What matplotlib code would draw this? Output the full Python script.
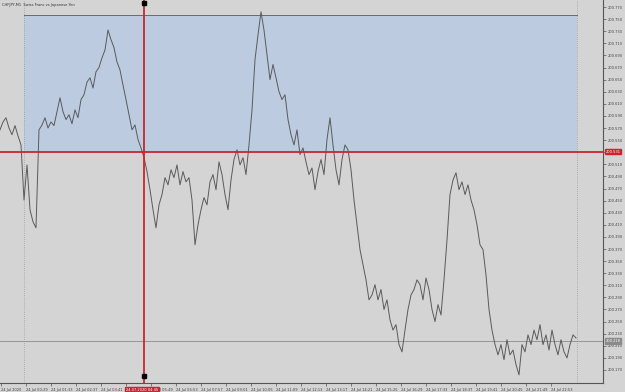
import numpy as np
import matplotlib
matplotlib.use("Agg")
from matplotlib import pyplot as plt

# CHFJPY M1 close prices, one sample every few bars.
prices = [
    200.567, 200.580, 200.587, 200.570, 200.559, 200.574, 200.557, 200.542, 200.451, 200.509,
    200.435, 200.415, 200.405, 200.567, 200.575, 200.587, 200.570, 200.580, 200.574, 200.597,
    200.620, 200.597, 200.584, 200.592, 200.577, 200.600, 200.587, 200.617, 200.625, 200.646,
    200.653, 200.636, 200.663, 200.670, 200.686, 200.699, 200.732, 200.716, 200.703, 200.679,
    200.666, 200.641, 200.617, 200.592, 200.567, 200.575, 200.551, 200.537, 200.521, 200.498,
    200.468, 200.435, 200.405, 200.443, 200.460, 200.488, 200.476, 200.501, 200.488, 200.509,
    200.476, 200.498, 200.481, 200.488, 200.451, 200.377, 200.410, 200.435, 200.455, 200.443,
    200.481, 200.493, 200.468, 200.514, 200.493, 200.460, 200.435, 200.484, 200.518, 200.534,
    200.509, 200.521, 200.493, 200.542, 200.600, 200.683, 200.724, 200.762, 200.732, 200.691,
    200.650, 200.675, 200.653, 200.630, 200.617, 200.625, 200.584, 200.559, 200.542, 200.567,
    200.526, 200.537, 200.514, 200.493, 200.504, 200.468, 200.498, 200.518, 200.493, 200.551,
    200.587, 200.542, 200.501, 200.476, 200.518, 200.542, 200.534, 200.501, 200.451, 200.410,
    200.369, 200.344, 200.319, 200.286, 200.294, 200.311, 200.286, 200.303, 200.270, 200.286,
    200.253, 200.236, 200.245, 200.212, 200.200, 200.236, 200.270, 200.294, 200.303, 200.319,
    200.311, 200.286, 200.322, 200.303, 200.270, 200.250, 200.278, 200.261, 200.319, 200.385,
    200.460, 200.484, 200.496, 200.468, 200.481, 200.460, 200.476, 200.451, 200.435, 200.410,
    200.377, 200.369, 200.327, 200.270, 200.236, 200.212, 200.195, 200.212, 200.187, 200.220,
    200.195, 200.203, 200.179, 200.162, 200.212, 200.200, 200.228, 200.212, 200.236, 200.220,
    200.245, 200.212, 200.228, 200.203, 200.236, 200.212, 200.195, 200.220, 200.200, 200.190,
    200.212, 200.228, 200.223,
]

time_labels = [
    "24 Jul 2020", "24 Jul 00:29", "24 Jul 01:33", "24 Jul 02:37", "24 Jul 03:41",
    "24 Jul 04:45", "24 Jul 05:49", "24 Jul 06:53", "24 Jul 07:57", "24 Jul 09:01",
    "24 Jul 10:05", "24 Jul 11:09", "24 Jul 12:13", "24 Jul 13:17", "24 Jul 14:21",
    "24 Jul 15:25", "24 Jul 16:29", "24 Jul 17:33", "24 Jul 18:37", "24 Jul 19:41",
    "24 Jul 20:45", "24 Jul 21:49", "24 Jul 22:53",
]
price_ticks = [round(200.770 - 0.02 * i, 3) for i in range(31)]

hline_price = 200.531      # red horizontal line
bid_price = 200.218        # grey bid line
rect_top = 200.757         # top of the blue rectangle
vline_label = "24.07.2020 04:45"

BG = "#d4d4d4"
RED = "#c8262c"
FS = 2.6

fig = plt.figure(figsize=(6.25, 3.92), dpi=100, facecolor=BG)
ax = fig.add_axes([0, 1 - 383 / 392, 603 / 625, 383 / 392])
ax.set_facecolor(BG)

x = np.arange(len(prices))
ax.set_xlim(0, 201)
ax.set_ylim(200.1485, 200.7816)

# blue rectangle + its border lines
ax.fill_between([8, 192.3], hline_price, rect_top, color="#bccbe0", zorder=1, lw=0)
ax.plot([8, 192.3], [rect_top, rect_top], color="#6a6a6a", lw=0.7, zorder=2)
ax.axvline(8, color="#888888", lw=0.5, ls=(0, (1, 2)), zorder=2)
ax.axvline(192.3, color="#888888", lw=0.5, ls=(0, (1, 2)), zorder=2)

ax.plot(x, prices, color="#5a5a5a", lw=0.7, zorder=3)

ax.axhline(bid_price, color="#8a8a8a", lw=0.6, zorder=2)
ax.axhline(hline_price, color=RED, lw=1.3, zorder=4)
ax.axvline(48, color=RED, lw=1.3, zorder=4)
ax.plot([48], [200.777], marker="s", color="black", ms=2.5, zorder=5, clip_on=False)
ax.plot([48], [200.160], marker="s", color="black", ms=2.5, zorder=5, clip_on=False)

# axes frame like the terminal
for side in ["top", "left"]:
    ax.spines[side].set_visible(False)
for side in ["right", "bottom"]:
    ax.spines[side].set_color("#555555")
    ax.spines[side].set_linewidth(0.8)

ax.yaxis.tick_right()
ax.set_yticks(price_ticks)
# the tick under the red price label is hidden by it
ax.set_yticklabels(["" if abs(p - hline_price) < 0.005 else f"{p:.3f}" for p in price_ticks])
ax.tick_params(axis="y", direction="out", length=2, width=0.5, pad=1.5,
               labelsize=FS, colors="#555555", labelcolor="#444444")

xticks = [(1 + 25 * k) / 3 for k in range(len(time_labels))]
ax.set_xticks(xticks)
shown = [lab if k != 5 else "" for k, lab in enumerate(time_labels)]
ax.set_xticklabels(shown)
ax.tick_params(axis="x", direction="out", length=2, width=0.5, pad=1.5,
               labelsize=FS, colors="#555555", labelcolor="#444444")
for lab in ax.get_xticklabels():
    lab.set_horizontalalignment("left")

# price labels on the right axis
ax.text(1.004, hline_price, f"{hline_price:.3f}", transform=ax.get_yaxis_transform(),
        fontsize=FS, color="white", va="center", ha="left", zorder=6,
        bbox=dict(boxstyle="square,pad=0.2", fc=RED, ec=RED))
ax.text(1.004, bid_price, f"{bid_price:.3f}", transform=ax.get_yaxis_transform(),
        fontsize=FS, color="white", va="center", ha="left", zorder=6,
        bbox=dict(boxstyle="square,pad=0.2", fc="#8a8a8a", ec="#8a8a8a"))
# time label of the vertical line
ax.text(47.3, -0.013, vline_label, transform=ax.get_xaxis_transform(),
        fontsize=FS, color="white", va="top", ha="center", zorder=6,
        bbox=dict(boxstyle="square,pad=0.2", fc=RED, ec=RED))

fig.text(0.003, 0.993, "CHFJPY,M1  Swiss Franc vs Japanese Yen", fontsize=FS,
         color="#333333", va="top", ha="left")

fig.savefig("out.png", dpi=100, facecolor=BG)
